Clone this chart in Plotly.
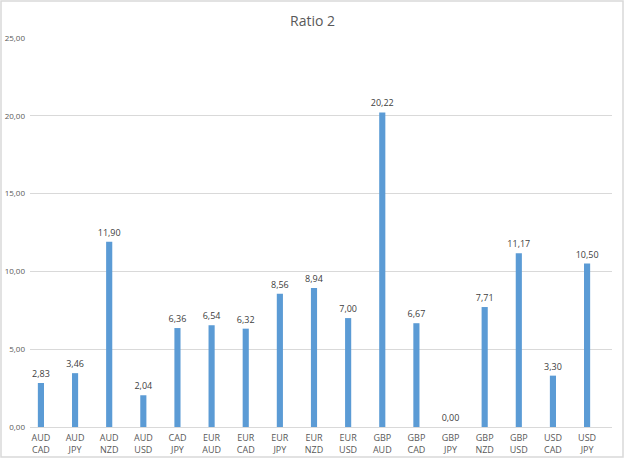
import plotly.graph_objects as go

categories = ["AUD<br>CAD", "AUD<br>JPY", "AUD<br>NZD", "AUD<br>USD", "CAD<br>JPY",
              "EUR<br>AUD", "EUR<br>CAD", "EUR<br>JPY", "EUR<br>NZD", "EUR<br>USD",
              "GBP<br>AUD", "GBP<br>CAD", "GBP<br>JPY", "GBP<br>NZD", "GBP<br>USD",
              "USD<br>CAD", "USD<br>JPY"]
values = [2.83, 3.46, 11.90, 2.04, 6.36, 6.54, 6.32, 8.56, 8.94, 7.00,
          20.22, 6.67, 0.00, 7.71, 11.17, 3.30, 10.50]
y_ticks = [0, 5, 10, 15, 20, 25]

W, H = 625, 459
L, R, T, B = 30, 612, 38, 427

fig = go.Figure(go.Bar(
    x=categories, y=values,
    marker=dict(color="#5B9BD5", line=dict(width=0)),
    width=0.18,
    texttemplate="%{y:.2f}", textposition="outside",
    constraintext="none",
    textfont=dict(size=9, color="#404040", family="Open Sans"),
    cliponaxis=False,
))

fig.update_layout(
    width=W, height=H,
    margin=dict(l=L, r=W - R, t=T, b=H - B, pad=0, autoexpand=False),
    paper_bgcolor="white", plot_bgcolor="white",
    separators=",.",
    showlegend=False,
    title=dict(text="Ratio 2", x=0.5, xanchor="center", y=1 - 21 / H, yanchor="middle",
               font=dict(size=14, color="#595959", family="Open Sans")),
    font=dict(family="Open Sans", color="#595959", size=9),
    xaxis=dict(type="category", range=[-0.32, 16.73], showgrid=False, automargin=False,
               showline=True, linecolor="#D9D9D9", linewidth=1,
               ticks="", ticklabelstandoff=2,
               tickfont=dict(size=9, color="#595959")),
    yaxis=dict(range=[0, 25], tickvals=y_ticks, tickformat=".2f", automargin=False,
               showgrid=True, gridcolor="#D9D9D9", gridwidth=1,
               zeroline=False, showline=False, ticks="",
               ticklabelstandoff=4,
               tickfont=dict(size=8, color="#595959")),
)

pw, ph = R - L, B - T
fig.add_shape(type="rect", xref="paper", yref="paper",
              x0=(1 - L) / pw, x1=(W - 2 - L) / pw,
              y0=(B - (H - 2)) / ph, y1=(B - 1) / ph,
              line=dict(color="#D9D9D9", width=1.5), fillcolor="rgba(0,0,0,0)")

fig.write_html("out.html")
